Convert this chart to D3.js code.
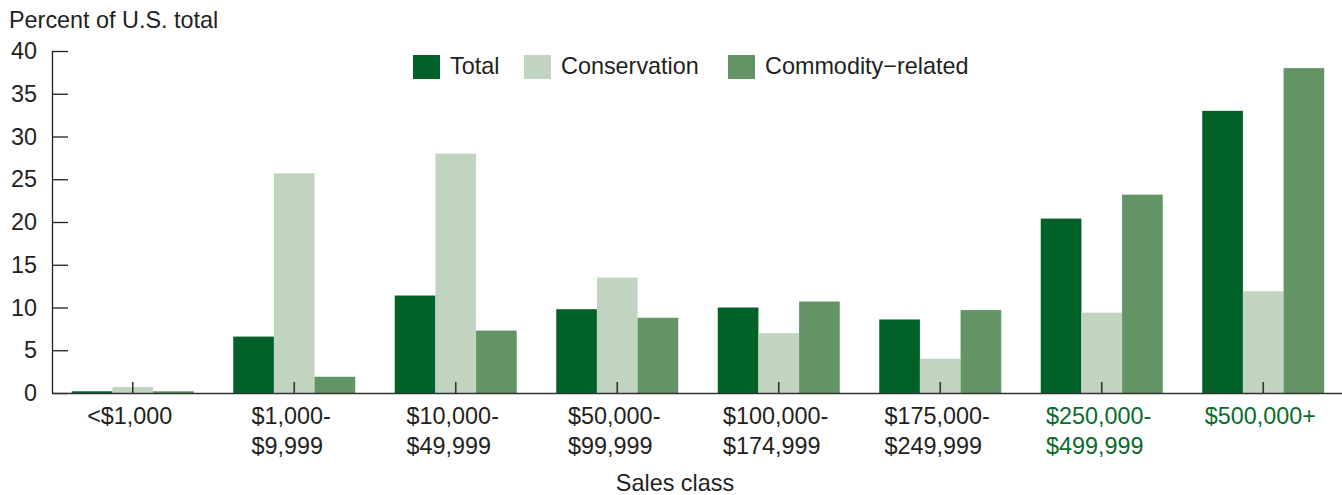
<!DOCTYPE html>
<html>
<head>
<meta charset="utf-8">
<script src="https://cdn.jsdelivr.net/npm/d3@7"></script>
<style>
  html, body { margin: 0; padding: 0; background: #fff; }
  svg { display: block; font-family: "Liberation Sans", Arial, Helvetica, sans-serif; }
</style>
</head>
<body>
<svg id="chart" width="1342" height="495"></svg>
<script>
const categories = [
  ["<$1,000"],
  ["$1,000-", "$9,999"],
  ["$10,000-", "$49,999"],
  ["$50,000-", "$99,999"],
  ["$100,000-", "$174,999"],
  ["$175,000-", "$249,999"],
  ["$250,000-", "$499,999"],
  ["$500,000+"]
];
const highlighted = [false, false, false, false, false, false, true, true];
const seriesNames = ["Total", "Conservation", "Commodity\u2212related"];
const totalValues        = [0.2, 6.6, 11.4, 9.8, 10.0, 8.6, 20.4, 33.0];
const conservationValues = [0.7, 25.7, 28.0, 13.5, 7.0, 4.0, 9.4, 11.9];
const commodityValues    = [0.2, 1.9, 7.3, 8.8, 10.7, 9.7, 23.2, 38.0];
const yTicks = [0, 5, 10, 15, 20, 25, 30, 35, 40];
const colors = ["#006228", "#c0d4c0", "#639466"];
const seriesValues = [totalValues, conservationValues, commodityValues];

const svg = d3.select("#chart");
const textColor = "#231f20";
const axisColor = "#333333";
const fs = "23.4px";

const x0 = d3.scaleBand().domain(d3.range(categories.length)).range([52, 1344]).padding(0);
const x1 = d3.scaleBand().domain(d3.range(seriesNames.length)).range([-61, 61]).padding(0);
const y = d3.scaleLinear().domain([0, 40]).range([393, 51]);

// bars
const groups = svg.append("g").selectAll("g")
  .data(d3.range(categories.length)).join("g")
  .attr("transform", i => `translate(${x0(i) + x0.bandwidth() / 2},0)`);
groups.selectAll("rect")
  .data(i => seriesValues.map((vals, s) => ({ s, v: vals[i] })))
  .join("rect")
  .attr("x", d => x1(d.s))
  .attr("width", x1.bandwidth())
  .attr("y", d => y(d.v))
  .attr("height", d => y(0) - y(d.v))
  .attr("fill", d => colors[d.s]);

// y axis
const yAxis = d3.axisLeft(y).tickValues(yTicks).tickSize(-16).tickPadding(15).tickSizeOuter(0);
const gy = svg.append("g").attr("transform", "translate(52,0)").call(yAxis);
gy.select(".domain").attr("stroke", textColor).attr("stroke-width", 1.3);
gy.selectAll(".tick line").attr("stroke", textColor).attr("stroke-width", 1.3);
gy.selectAll(".tick text").attr("fill", textColor).style("font-size", fs)
  .style("font-family", '"Liberation Sans", Arial, sans-serif');

// x axis
const xAxis = d3.axisBottom(x0).tickSize(-11).tickFormat("").tickSizeOuter(0);
const gx = svg.append("g").attr("transform", "translate(0,393)").call(xAxis);
gx.select(".domain").attr("stroke", axisColor).attr("stroke-width", 1.6);
gx.selectAll(".tick line").attr("stroke", axisColor).attr("stroke-width", 1.6);

// x labels
const labelG = svg.append("g");
categories.forEach((lines, i) => {
  const cx = x0(i) + x0.bandwidth() / 2;
  const fill = highlighted[i] ? "#0a6b2c" : textColor;
  const t = labelG.append("text").attr("fill", fill).style("font-size", fs);
  const first = t.append("tspan").attr("x", cx).attr("y", 424).text(lines[0]);
  const w = first.node().getComputedTextLength();
  const left = cx - 3 - w / 2;
  first.attr("x", left);
  if (lines[1]) t.append("tspan").attr("x", left).attr("y", 454).text(lines[1]);
});

// axis titles
svg.append("text").attr("x", 9).attr("y", 28).attr("fill", textColor)
  .style("font-size", fs).text("Percent of U.S. total");
svg.append("text").attr("x", 675).attr("y", 491).attr("text-anchor", "middle").attr("fill", textColor)
  .style("font-size", fs).text("Sales class");

// legend
const legendX = [413, 524, 728];
const legend = svg.append("g");
seriesNames.forEach((name, s) => {
  legend.append("rect").attr("x", legendX[s]).attr("y", 55).attr("width", 27).attr("height", 24).attr("fill", colors[s]);
  legend.append("text").attr("x", legendX[s] + 37).attr("y", 74).attr("fill", textColor)
    .style("font-size", fs).text(name);
});
</script>
</body>
</html>
